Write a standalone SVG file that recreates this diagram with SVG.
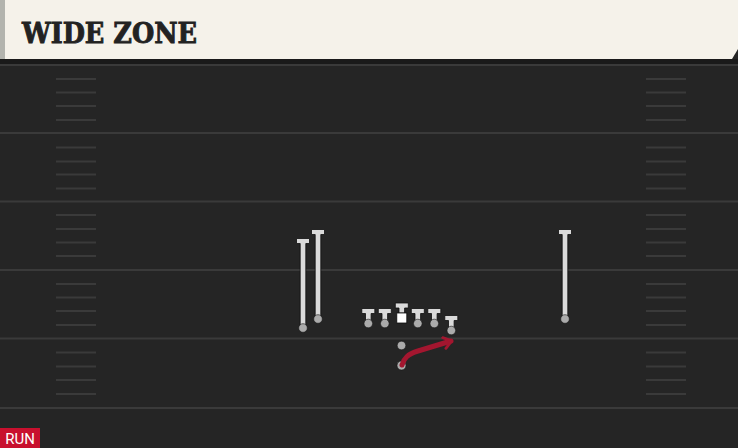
<svg xmlns="http://www.w3.org/2000/svg" width="738" height="448" viewBox="0 0 738 448">
<defs>
<style>
.yard{stroke:#3a3a3a;stroke-width:2}
.hash{stroke:#3a3a3a;stroke-width:2}
.t{fill:#dadada;stroke:#0e0e0e;stroke-width:0.8}
.dot{fill:#ababab;stroke:#161616;stroke-width:0.6}
.route{fill:none;stroke:#a3162f;stroke-width:5;stroke-linecap:round;stroke-linejoin:round}
</style>
<marker id="arr" viewBox="0 0 10 10" refX="6.5" refY="5" markerWidth="2.8" markerHeight="2.8" orient="auto" markerUnits="strokeWidth">
<path d="M1.5,1 L7,5 L1.5,9" fill="none" stroke="#a3162f" stroke-width="2" stroke-linecap="round" stroke-linejoin="round"/>
</marker>
</defs>
<rect x="0" y="0" width="738" height="448" fill="#252525"/>
<rect x="0" y="59" width="738" height="5" fill="#1a1a1a"/>
<g id="field">
<line class="yard" x1="0" y1="65" x2="738" y2="65"/>
<line class="yard" x1="0" y1="133" x2="738" y2="133"/>
<line class="yard" x1="0" y1="201.5" x2="738" y2="201.5"/>
<line class="yard" x1="0" y1="270" x2="738" y2="270"/>
<line class="yard" x1="0" y1="338.5" x2="738" y2="338.5"/>
<line class="yard" x1="0" y1="408" x2="738" y2="408"/>
<path d="M56,79H96M56,92.5H96M56,106H96M56,120H96M56,147.5H96M56,161.5H96M56,174.5H96M56,188.5H96M56,215H96M56,229H96M56,242.5H96M56,256H96M56,284H96M56,297.5H96M56,311H96M56,325H96M56,352.5H96M56,366.5H96M56,380H96M56,394H96" class="hash"/>
<path d="M646,79H686M646,92.5H686M646,106H686M646,120H686M646,147.5H686M646,161.5H686M646,174.5H686M646,188.5H686M646,215H686M646,229H686M646,242.5H686M646,256H686M646,284H686M646,297.5H686M646,311H686M646,325H686M646,352.5H686M646,366.5H686M646,380H686M646,394H686" class="hash"/>
</g>
<g id="header">
<rect x="0" y="0" width="738" height="59" fill="#f5f2ea"/>
<rect x="0" y="0" width="5" height="59" fill="#b3b4ae"/>
<path d="M738,49 L738,59 L732,59 Z" fill="#252525"/>
<text x="22" y="42.5" font-family="'DejaVu Serif', serif" font-weight="bold" font-size="28" fill="#222" stroke="#222" stroke-width="0.9" textLength="175" lengthAdjust="spacingAndGlyphs">WIDE ZONE</text>
</g>
<g id="wr1">
<path class="t" d="M296.5,238.5H309.5V243.5H305.8V327H300.2V243.5H296.5Z"/>
<circle class="dot" cx="303" cy="328" r="4.3"/>
</g>
<g id="wr2">
<path class="t" d="M311.5,229.5H324.5V234.5H320.8V318H315.2V234.5H311.5Z"/>
<circle class="dot" cx="318" cy="319" r="4.3"/>
</g>
<g id="wr3">
<path class="t" d="M558.5,229.5H571.5V234.5H567.8V318H562.2V234.5H558.5Z"/>
<circle class="dot" cx="565" cy="319" r="4.3"/>
</g>
<g id="lt">
<path class="t" d="M361.8,308.5H374.8V313.5H371.1V321H365.5V313.5H361.8Z"/>
<circle class="dot" cx="368.3" cy="323.5" r="4.3"/>
</g>
<g id="lg">
<path class="t" d="M378.3,308.5H391.3V313.5H387.6V321H382V313.5H378.3Z"/>
<circle class="dot" cx="384.8" cy="323.5" r="4.3"/>
</g>
<g id="c">
<path class="t" d="M395.3,303H408.3V308H404.6V313H399V308H395.3Z"/>
<rect x="396.8" y="313" width="10" height="10" fill="#ffffff" stroke="#0e0e0e" stroke-width="0.8"/>
</g>
<g id="rg">
<path class="t" d="M411.3,308.5H424.3V313.5H420.6V321H415V313.5H411.3Z"/>
<circle class="dot" cx="417.8" cy="323.5" r="4.3"/>
</g>
<g id="rt">
<path class="t" d="M427.8,308.5H440.8V313.5H437.1V321H431.5V313.5H427.8Z"/>
<circle class="dot" cx="434.3" cy="323.5" r="4.3"/>
</g>
<g id="te">
<path class="t" d="M444.8,315.5H457.8V320.5H454.1V328H448.5V320.5H444.8Z"/>
<circle class="dot" cx="451.3" cy="330.5" r="4.3"/>
</g>
<g id="qb">
<circle class="dot" cx="401.5" cy="345.5" r="4.3"/>
</g>
<g id="rb">
<circle class="dot" cx="401.5" cy="365.5" r="4.5" fill="#a98f94"/>
</g>
<g id="connectors">
<path class="route" d="M402,365 C404,358 408,354 418,351 L451,341" marker-end="url(#arr)"/>
</g>
<g id="label">
<rect x="0" y="428" width="40" height="20" fill="#c8102e"/>
<text x="20" y="444" font-family="Roboto, 'Liberation Sans', sans-serif" font-size="15" fill="#fff" text-anchor="middle">RUN</text>
</g>
</svg>
